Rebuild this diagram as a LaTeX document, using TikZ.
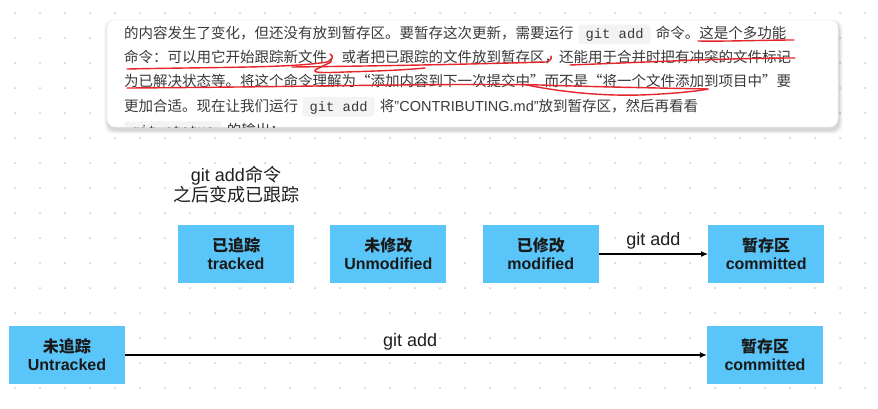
\documentclass[tikz,border=0pt]{standalone}
\usepackage{fontspec}
\setmainfont{Liberation Sans}
\setmonofont{Liberation Mono}
\newfontfamily\zh{Noto Sans CJK SC}
\newfontfamily\zhq{Noto Sans CJK SC}[RawFeature=+fwid]
\usetikzlibrary{arrows.meta, positioning}

\definecolor{boxblue}{RGB}{90,197,248}
\definecolor{dotgray}{RGB}{204,204,204}
\definecolor{textgray}{RGB}{58,58,58}
\definecolor{codebg}{RGB}{243,243,243}
\definecolor{scribred}{RGB}{229,36,44}

\newcommand\cardfont{\fontsize{14.5}{17}\selectfont}
\newcommand\cardcode{\ttfamily\fontsize{13.8}{16}\selectfont}

\begin{document}
\begin{tikzpicture}[
  x=1pt, y=-1pt,
  state/.style={fill=boxblue, minimum width=116pt, minimum height=58pt, inner sep=0pt,
                align=center, text=black!90, font=\fontsize{16}{18}\selectfont\bfseries},
  flow/.style={-{Latex[length=7pt, width=6pt]}, line width=1.1pt},
  lab/.style={font=\fontsize{18}{20}\selectfont, text=black!88, inner sep=2pt},
  note/.style={align=center, font=\fontsize{18}{20}\selectfont, text=black!88},
  cardtxt/.style={font=\cardfont, text=textgray, inner sep=0pt, anchor=base west},
  code/.style={fill=codebg, rounded corners=3pt, font=\cardcode, text=textgray,
               inner xsep=7pt, inner ysep=3pt, text height=11pt, text depth=2.5pt, anchor=base west},
  scrib/.style={draw=scribred, line width=1.4pt, line cap=round, line join=round}
]
\useasboundingbox (0,0) rectangle (878,408);
\fill[white] (0,0) rectangle (878,408);

\foreach \i in {0,...,34} {
  \foreach \j in {0,...,15} {
    \fill[dotgray] (15+25*\i,13+25*\j) circle (1pt);
  }
}

\foreach \s/\o in {4/0.025,3/0.035,2/0.045,1/0.06}
  \fill[black, opacity=\o, rounded corners=9pt] (107-\s+1,20-\s+3) rectangle (838+\s+1,127+\s+3);
\fill[white, rounded corners=8pt] (107,20) rectangle (838,127);
\draw[black!7, rounded corners=8pt] (107,20) rectangle (838,127);

\begin{scope}
\clip[rounded corners=8pt] (107,20) rectangle (838,127);
\node[cardtxt] (l1a) at (124,38.5) {\zh 的内容发生了变化，但还没有放到暂存区。要暂存这次更新，需要运行};
\node[code] (c1) at ([xshift=4.5pt]l1a.base east) {git add};
\node[cardtxt] (l1b) at ([xshift=5pt]c1.base east) {\zh 命令。这是个多功能};
\node[cardtxt] (l2) at (124,62.7) {\zh 命令：可以用它开始跟踪新文件，或者把已跟踪的文件放到暂存区，还能用于合并时把有冲突的文件标记};
\node[cardtxt] (l3) at (124,86.9) {\zhq 为已解决状态等。将这个命令理解为“添加内容到下一次提交中”而不是“将一个文件添加到项目中”要};
\node[cardtxt] (l4a) at (124,111.1) {\zh 更加合适。现在让我们运行};
\node[code] (c2) at ([xshift=4pt]l4a.base east) {git add};
\node[cardtxt] (l4b) at ([xshift=5pt]c2.base east) {{\zh 将}"CONTRIBUTING.md"{\zh 放到暂存区，然后再看看}};
\node[code] (c3) at (124.5,135.3) {git status};
\node[cardtxt] (l5) at ([xshift=5pt]c3.base east) {\zh 的输出：};
\end{scope}

\draw[scrib] (698,41) .. controls (730,41.5) and (765,40) .. (794,40);
\draw[scrib] (127,69) .. controls (220,67) and (290,68) .. (327,62) .. controls (333,60) and (334,56) .. (330,54);
\draw[scrib] (331,62) .. controls (316,70) and (298,74) .. (345,72) .. controls (380,71) and (405,70) .. (425,68);
\draw[scrib] (292,67) .. controls (380,66) and (480,64) .. (546,62) .. controls (550,61) and (552,59) .. (551,56);
\draw[scrib] (570,65) .. controls (650,62) and (730,58) .. (795,58);
\draw[scrib] (127,88) .. controls (300,87) and (450,83) .. (540,85) .. controls (600,87) and (660,88) .. (708,89);
\draw[scrib] (522,84) .. controls (560,92) and (600,96) .. (640,95) .. controls (670,94) and (700,91) .. (708,89);

\node[note] (remark) at (236,185) {git add{\zh 命令}\\{\zh 之后变成已跟踪}};

\node[state] (tracked) at (236,254) {{\zh 已追踪}\\tracked};
\node[state, right=36pt of tracked] (unmod) {{\zh 未修改}\\Unmodified};
\node[state, right=36pt of unmod] (modif) {{\zh 已修改}\\modified};
\node[state, right=109pt of modif] (staged) {{\zh 暂存区}\\committed};
\node[state] (untracked) at (67,355) {{\zh 未追踪}\\Untracked};
\node[state] (staged2) at (765,355) {{\zh 暂存区}\\committed};

\draw[flow] (modif) -- node[lab, above=2pt] {git add} (staged);
\draw[flow] (untracked) -- node[lab, pos=0.49, above=2pt] {git add} (staged2);
\end{tikzpicture}
\end{document}
